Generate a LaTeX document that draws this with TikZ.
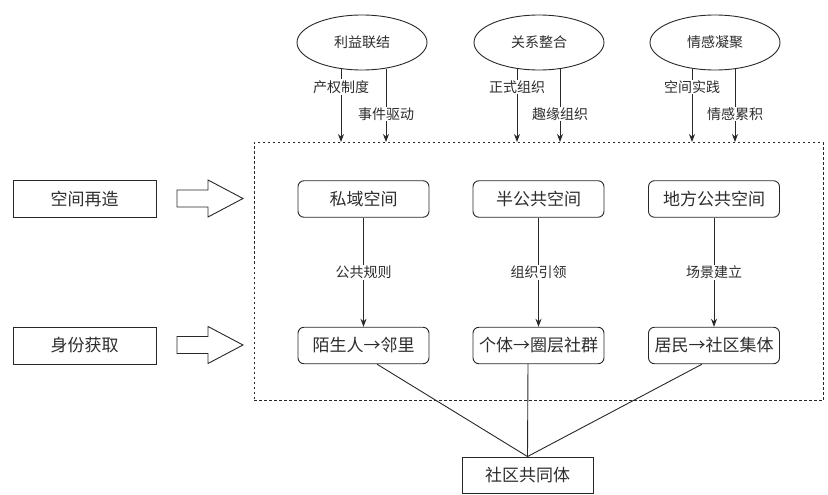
\documentclass[tikz,border=0pt]{standalone}
\usepackage{fontspec}
\setmainfont{Noto Sans CJK SC}
\usetikzlibrary{shapes.geometric,arrows.meta}
\definecolor{ink}{RGB}{40,40,40}
\definecolor{txt}{RGB}{45,45,45}
\begin{document}
\begin{tikzpicture}[x=1pt,y=-1pt,
  every node/.style={text=txt, inner sep=0pt},
  rbox/.style={draw=ink, line width=0.9pt, rounded corners=6pt, minimum width=131pt, minimum height=36.5pt, font=\fontsize{17}{20}\selectfont},
  sbox/.style={draw=ink, line width=0.9pt, minimum width=143pt, minimum height=37pt, font=\fontsize{17}{20}\selectfont},
  goal/.style={draw=ink, line width=0.9pt, ellipse, minimum width=130pt, minimum height=55pt, font=\fontsize{14}{17}\selectfont},
  lbl/.style={fill=white, inner sep=1pt, font=\fontsize{14}{17}\selectfont},
  arr/.style={draw=ink, line width=0.9pt, -{Stealth[length=8pt,width=6pt]}},
  ln/.style={draw=ink, line width=0.9pt},
  dashframe/.style={draw=ink, line width=1pt, dash pattern=on 2.5pt off 2.5pt},
  blk/.style={draw=ink, line width=0.9pt, fill=white, line join=miter}]
\useasboundingbox (0,0) rectangle (828,495);
\fill[white] (0,0) rectangle (828,495);

% goals
\node[goal] (e1) at (362,42.5) {利益联结};
\node[goal] (e2) at (539,42.5) {关系整合};
\node[goal] (e3) at (715,42.5) {情感凝聚};

% frame
\node[dashframe, minimum width=569pt, minimum height=258pt] (fr) at (538.5,271.5) {};

% left boxes
\node[sbox] (s1) at (84.5,199) {空间再造};
\node[sbox] (s2) at (84.5,345.5) {身份获取};

% inner boxes
\node[rbox] (p1) at (363.5,199) {私域空间};
\node[rbox] (p2) at (538.5,199) {半公共空间};
\node[rbox] (p3) at (714,199) {地方公共空间};
\node[rbox] (q1) at (363.5,345.5) {陌生人→邻里};
\node[rbox] (q2) at (538.5,345.5) {个体→圈层社群};
\node[rbox] (q3) at (714,345.5) {居民→社区集体};
\node[sbox, minimum width=131pt, minimum height=36pt] (c) at (527.5,475) {社区共同体};

% top arrows
\draw[arr] ([xshift=-21pt,yshift=1.5pt]e1.south) -- ([xshift=-21pt]e1.south |- fr.north);
\draw[arr] ([xshift=24pt,yshift=1.8pt]e1.south) -- ([xshift=24pt]e1.south |- fr.north);
\draw[arr] ([xshift=-22pt,yshift=1.7pt]e2.south) -- ([xshift=-22pt]e2.south |- fr.north);
\draw[arr] ([xshift=21pt,yshift=1.5pt]e2.south) -- ([xshift=21pt]e2.south |- fr.north);
\draw[arr] ([xshift=-23pt,yshift=1.8pt]e3.south) -- ([xshift=-23pt]e3.south |- fr.north);
\draw[arr] ([xshift=20pt,yshift=1.4pt]e3.south) -- ([xshift=20pt]e3.south |- fr.north);
\node[lbl] (l1) at (341,87) {产权制度};
\node[lbl] (l2) at (386,114) {事件驱动};
\node[lbl] (l3) at (517,87) {正式组织};
\node[lbl] (l4) at (560,114) {趣缘组织};
\node[lbl] (l5) at (692,87) {空间实践};
\node[lbl] (l6) at (735,114) {情感累积};

% block arrows
\draw[blk] (177,190) -- (208,190) -- (208,180) -- (243,198.5) -- (208,217) -- (208,207) -- (177,207) -- cycle;
\draw[blk] (177,336.5) -- (208,336.5) -- (208,326.5) -- (243,345) -- (208,363.5) -- (208,353.5) -- (177,353.5) -- cycle;

% middle arrows
\draw[arr] (p1) -- node[lbl] {公共规则} (q1);
\draw[arr] (p2) -- node[lbl] {组织引领} (q2);
\draw[arr] (p3) -- node[lbl] {场景建立} (q3);

% converging lines
\draw[ln] ([xshift=13.5pt]q1.south) -- (c.north);
\draw[ln] ([xshift=-10.5pt]q2.south) -- (c.north);
\draw[ln] ([xshift=-12pt]q3.south) -- (c.north);
\end{tikzpicture}
\end{document}
